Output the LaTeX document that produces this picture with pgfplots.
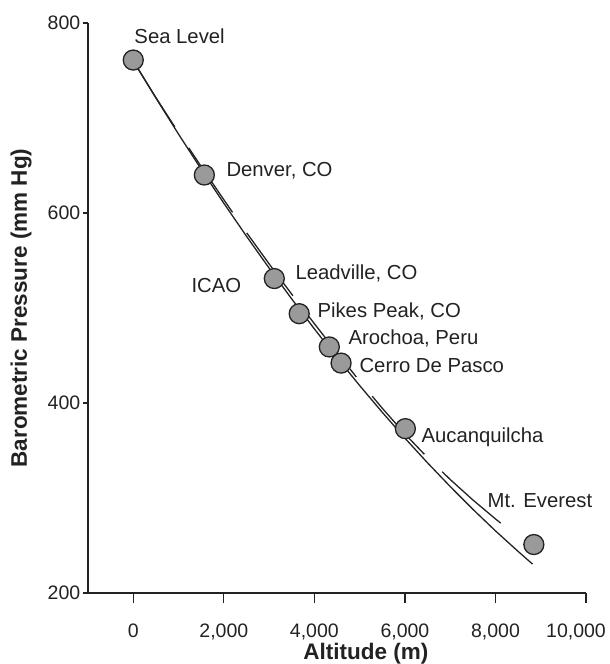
\documentclass[border=0pt]{standalone}
\usepackage{fontspec}
\setmainfont{Liberation Sans}
\usepackage{pgfplots}
\pgfplotsset{compat=1.18}

\definecolor{ink}{HTML}{222222}
\definecolor{dotfill}{HTML}{9A9A9A}

% measured altitude / pressure points
\pgfplotstableread{
alt   p
0     761
1570  640
3115  531
3665  494
4330  459
4590  442
6010  373
8848  251
}\sites

\begin{document}
\begin{tikzpicture}
\begin{axis}[
  at={(0,0)}, anchor=south west,
  scale only axis, width=498pt, height=570pt,
  xmin=-1000, xmax=10000, ymin=200, ymax=800,
  axis x line*=bottom, axis y line*=left,
  axis line style={ink, line width=1.4pt},
  xtick={0,2000,4000,6000,8000},
  extra x ticks={10000},
  extra x tick style={tick label style={xshift=-10pt}},
  ytick={200,400,600,800},
  scaled x ticks=false,
  tick align=outside,
  xtick style={ink, line width=1.2pt, /pgfplots/major tick length=10pt},
  ytick style={ink, line width=1.2pt, /pgfplots/major tick length=5pt},
  ticklabel style={font=\fontsize{19.5}{20}\selectfont, text=ink},
  xticklabel style={yshift=-23pt},
  /pgf/number format/.cd, 1000 sep={,}, assume math mode=true, /pgfplots/.cd,
  clip=false,
]
% solid curve
\addplot[ink, line width=1.3pt] coordinates {
  (0,760) (500,721.0) (1000,683.0) (1500,646.1) (2000,610.3) (2500,575.6)
  (3000,542.0) (3500,509.5) (4000,478.0) (4500,447.6) (5000,418.4)
  (5500,390.2) (6000,363.0) (6500,337.0) (7000,312.1) (7500,288.2)
  (8000,265.4) (8500,243.8) (8820,230.4)
};
% ICAO (dashed)
\addplot[ink, line width=1.3pt, dash pattern=on 78pt off 25pt] coordinates {
  (0,760) (500,721.5) (1000,684.5) (1500,649) (2000,614) (2500,579.5)
  (3000,546.5) (3500,514.5) (4000,483.5) (4500,453) (5000,423) (5500,394.5)
  (6000,367.5) (6500,342.5) (7000,319.5) (7500,298) (8000,278) (8130,273)
};
\addplot[only marks, mark=*, mark size=10pt,
  mark options={fill=dotfill, draw=ink, line width=1.3pt}] table[x=alt, y=p] {\sites};

\begin{scope}[every node/.style={anchor=base west, inner sep=0pt, text=ink,
    font=\fontsize{20.3}{21}\selectfont}]
\node at (axis cs:22,778.9) {Sea Level};
\node at (axis cs:2055,637.9) {Denver, CO};
\node at (axis cs:1282,516.8) {ICAO};
\node at (axis cs:3580,529.5) {Leadville, CO};
\node at (axis cs:4066,489.5) {Pikes Peak, CO};
\node at (axis cs:4751,461.1) {Arochoa, Peru};
\node at (axis cs:4994,432.6) {Cerro De Pasco};
\node at (axis cs:6364,358.9) {Aucanquilcha};
\node at (axis cs:7823,290.5) {Mt. Everest};
\end{scope}

\node[anchor=base, inner sep=0pt, text=ink, font=\bfseries\fontsize{22.5}{23}\selectfont]
  at ([yshift=-66pt]axis description cs:0.558,0) {Altitude (m)};
\node[anchor=base, rotate=90, inner sep=0pt, text=ink, font=\bfseries\fontsize{22.5}{23}\selectfont]
  at ([xshift=-61pt]axis description cs:0,0.5) {Barometric Pressure (mm Hg)};
\end{axis}
\pgfresetboundingbox
\path (-88pt,-71pt) rectangle (522pt,593pt);
\end{tikzpicture}
\end{document}
